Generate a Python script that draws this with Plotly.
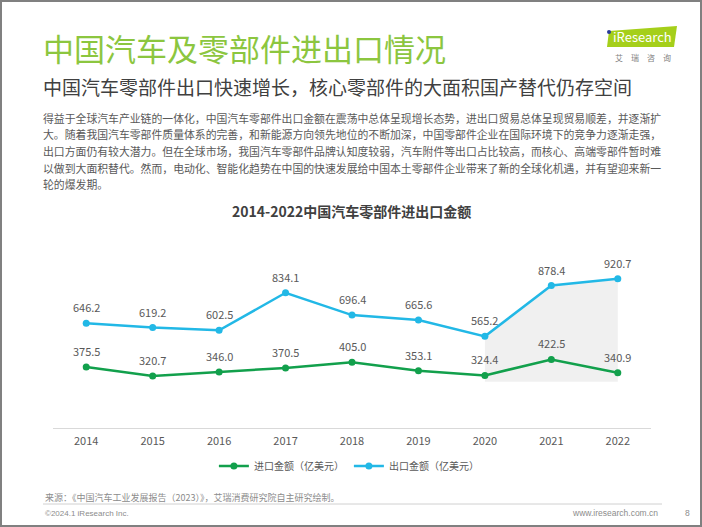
import plotly.graph_objects as go

# ---------------- data ----------------
years = ["2014", "2015", "2016", "2017", "2018", "2019", "2020", "2021", "2022"]
import_values = [375.5, 320.7, 346.0, 370.5, 405.0, 353.1, 324.4, 422.5, 340.9]
export_values = [646.2, 619.2, 602.5, 834.1, 696.4, 665.6, 565.2, 878.4, 920.7]
import_name = "进口金额（亿美元）"
export_name = "出口金额（亿美元）"
shade_years = years[6:]
shade_top = export_values[6:]
shade_floor = 285

title_text = "中国汽车及零部件进出口情况"
subtitle_text = "中国汽车零部件出口快速增长，核心零部件的大面积国产替代仍存空间"
paragraph_lines = [
    "得益于全球汽车产业链的一体化，中国汽车零部件出口金额在震荡中总体呈现增长态势，进出口贸易总体呈现贸易顺差，并逐渐扩",
    "大。随着我国汽车零部件质量体系的完善，和新能源方向领先地位的不断加深，中国零部件企业在国际环境下的竞争力逐渐走强，",
    "出口方面仍有较大潜力。但在全球市场，我国汽车零部件品牌认知度较弱，汽车附件等出口占比较高，而核心、高端零部件暂时难",
    "以做到大面积替代。然而，电动化、智能化趋势在中国的快速发展给中国本土零部件企业带来了新的全球化机遇，并有望迎来新一",
    "轮的爆发期。",
]
chart_title = "2014-2022中国汽车零部件进出口金额"
source_text = "来源：《中国汽车工业发展报告（2023）》，艾瑞消费研究院自主研究绘制。"
copyright_text = "©2024.1 iResearch Inc."
site_text = "www.iresearch.com.cn"
page_number = "8"

# ---------------- styles ----------------
W, H = 702, 527
FONT = "Noto Sans CJK SC, Microsoft YaHei, sans-serif"
LATIN = "Liberation Sans, Arial, sans-serif"
GREEN = "#12a04c"
BLUE = "#22b8e6"
TXT = "#595959"
SHADE = "#f0f0f0"
FOOT = "#8c8c8c"


def py(px):
    return 1 - px / H


def pxx(px):
    return px / W


fig = go.Figure()

# shaded area 2020-2022
fig.add_trace(go.Scatter(x=shade_years, y=[shade_floor] * len(shade_years), mode="lines",
                         line=dict(width=0, color=SHADE), showlegend=False, hoverinfo="skip"))
fig.add_trace(go.Scatter(x=shade_years, y=shade_top, mode="lines", fill="tonexty",
                         fillcolor=SHADE, line=dict(width=0, color=SHADE),
                         showlegend=False, hoverinfo="skip"))

fig.add_trace(go.Scatter(x=years, y=import_values, name=import_name, mode="lines+markers",
                         line=dict(color=GREEN, width=2.5), marker=dict(color=GREEN, size=7)))
fig.add_trace(go.Scatter(x=years, y=export_values, name=export_name, mode="lines+markers",
                         line=dict(color=BLUE, width=2.5), marker=dict(color=BLUE, size=7)))

annotations = []
for i, v in enumerate(import_values):
    annotations.append(dict(x=i, y=v, xref="x", yref="y", text=f"{v:.1f}", showarrow=False,
                            yshift=16, font=dict(size=11, color=TXT, family=FONT)))
for i, v in enumerate(export_values):
    annotations.append(dict(x=i, y=v, xref="x", yref="y", text=f"{v:.1f}", showarrow=False,
                            yshift=16, font=dict(size=11, color=TXT, family=FONT)))

# header texts
annotations.append(dict(x=pxx(41), y=py(48), xref="paper", yref="paper", xanchor="left", yanchor="middle",
                        text=title_text, showarrow=False, font=dict(size=31, color="#8cc63f", family=FONT)))
annotations.append(dict(x=pxx(41), y=py(87), xref="paper", yref="paper", xanchor="left", yanchor="middle",
                        text=subtitle_text, showarrow=False, font=dict(size=19, color="#404040", family=FONT)))
for i, line in enumerate(paragraph_lines):
    annotations.append(dict(x=pxx(41), y=py(118 + 16.5 * i), xref="paper", yref="paper", xanchor="left",
                            yanchor="middle", text=line, showarrow=False,
                            font=dict(size=10.85, color=TXT, family=FONT)))
annotations.append(dict(x=pxx(351), y=py(211), xref="paper", yref="paper", xanchor="center", yanchor="middle",
                        text=f"<b>{chart_title}</b>", showarrow=False,
                        font=dict(size=14, color="#404040", family=FONT)))

# logo
annotations.append(dict(x=pxx(642), y=py(37), xref="paper", yref="paper", xanchor="center", yanchor="middle",
                        text="iResearch", showarrow=False, font=dict(size=13, color="white", family=FONT)))
annotations.append(dict(x=pxx(643), y=py(57), xref="paper", yref="paper", xanchor="center", yanchor="middle",
                        text="艾　瑞　咨　询", showarrow=False, font=dict(size=8, color="#7f7f7f", family=FONT)))

# footer
annotations.append(dict(x=pxx(43), y=py(497), xref="paper", yref="paper", xanchor="left", yanchor="middle",
                        text=source_text, showarrow=False, font=dict(size=9, color=FOOT, family=FONT)))
annotations.append(dict(x=pxx(43), y=py(513), xref="paper", yref="paper", xanchor="left", yanchor="middle",
                        text=copyright_text, showarrow=False, font=dict(size=8, color=FOOT, family=LATIN)))
annotations.append(dict(x=pxx(660), y=py(513), xref="paper", yref="paper", xanchor="right", yanchor="middle",
                        text=site_text, showarrow=False, font=dict(size=8.5, color=FOOT, family=LATIN)))
annotations.append(dict(x=pxx(687), y=py(513), xref="paper", yref="paper", xanchor="center", yanchor="middle",
                        text=page_number, showarrow=False, font=dict(size=8.5, color=FOOT, family=LATIN)))

shapes = [
    # border
    dict(type="rect", xref="paper", yref="paper", x0=pxx(1), y0=py(526), x1=pxx(701), y1=py(1),
         line=dict(color="#808080", width=2)),
    # footer separator
    dict(type="line", xref="paper", yref="paper", x0=pxx(43), x1=pxx(662), y0=py(504), y1=py(504),
         line=dict(color="#d0d0d0", width=1)),
    # logo box
    dict(type="path", xref="paper", yref="paper",
         path=f"M {pxx(609)} {py(31)} L {pxx(677)} {py(26)} L {pxx(674)} {py(47)} L {pxx(607)} {py(47)} Z",
         fillcolor="#a5cf1a", line=dict(width=0)),
    dict(type="circle", xref="paper", yref="paper", x0=pxx(607), x1=pxx(611), y0=py(34), y1=py(30),
         fillcolor="#2a3b9a", line=dict(width=0)),
]

fig.update_layout(
    width=W, height=H,
    margin=dict(l=0, r=0, t=0, b=0),
    paper_bgcolor="white", plot_bgcolor="white",
    font=dict(family=FONT, color=TXT),
    showlegend=True,
    legend=dict(orientation="h", x=0.497, xanchor="center", y=py(466), yanchor="middle",
                font=dict(size=10, color=TXT, family=FONT), bgcolor="rgba(0,0,0,0)",
                traceorder="normal", itemwidth=30, tracegroupgap=0),
    xaxis=dict(type="category", categoryorder="array", categoryarray=years,
               domain=[pxx(53), pxx(651)], range=[-0.5, 8.5],
               showline=True, linecolor="#d9d9d9", linewidth=1, showgrid=False, zeroline=False,
               ticks="", ticklabelstandoff=3, tickfont=dict(size=11, color=TXT, family=FONT)),
    yaxis=dict(domain=[py(428), py(230)], range=[0, 1221], visible=False, showgrid=False, zeroline=False),
    annotations=annotations,
    shapes=shapes,
)

fig.write_html("out.html", config={"displayModeBar": False},
               post_script="document.body.style.margin='0px';document.body.style.overflow='hidden';")
